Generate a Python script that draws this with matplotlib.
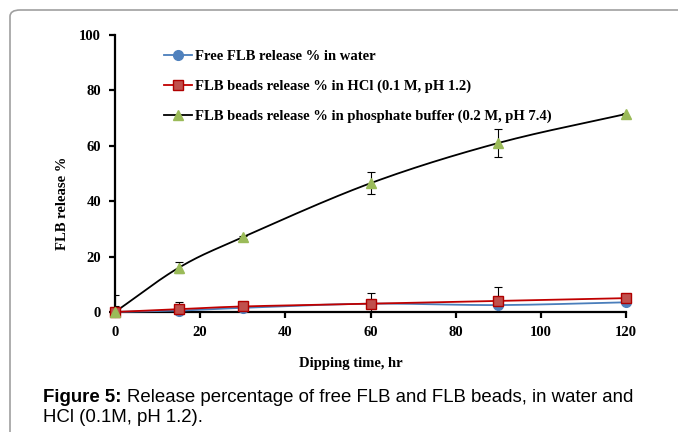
import numpy as np
import matplotlib
matplotlib.use("Agg")
import matplotlib.pyplot as plt
from matplotlib.lines import Line2D
from matplotlib.patches import FancyBboxPatch

# data
time_hr = [0, 15, 30, 60, 90, 120]
water = [0, 0.5, 1.5, 3.0, 2.5, 3.5]
water_err = [0, 0.5, 0.5, 0.5, 0.5, 0.3]
hcl = [0, 1.0, 2.0, 3.0, 4.0, 5.0]
hcl_err = [2.0, 2.5, 1.0, 4.0, 5.0, 0.3]
phosphate = [0, 16.0, 27.0, 46.5, 61.0, 71.5]
phosphate_err = [6.0, 2.0, 0.5, 4.0, 5.0, 0.5]

labels = ["Free FLB release % in water",
          "FLB beads release % in HCl (0.1 M, pH 1.2)",
          "FLB beads release % in phosphate buffer (0.2 M, pH 7.4)"]


def smooth(x, y, n=30):
    # Catmull-Rom curve through the points (like Excel's smoothed line)
    x = np.asarray(x, float)
    y = np.asarray(y, float)
    px = np.concatenate([[2 * x[0] - x[1]], x, [2 * x[-1] - x[-2]]])
    py = np.concatenate([[2 * y[0] - y[1]], y, [2 * y[-1] - y[-2]]])
    xs, ys = [], []
    t = np.linspace(0, 1, n)
    for i in range(1, len(px) - 2):
        for p, out in ((px, xs), (py, ys)):
            p0, p1, p2, p3 = p[i - 1], p[i], p[i + 1], p[i + 2]
            out.extend(0.5 * ((2 * p1) + (-p0 + p2) * t
                              + (2 * p0 - 5 * p1 + 4 * p2 - p3) * t ** 2
                              + (-p0 + 3 * p1 - 3 * p2 + p3) * t ** 3))
    return xs, ys


serif = "Liberation Serif"
W, H = 678, 432
fig = plt.figure(figsize=(6.78, 4.32), dpi=100)
ax = fig.add_axes([115 / W, 1 - 312 / H, 511 / W, 277 / H])

# gray frame around the figure
frame = FancyBboxPatch((10 / W, -0.1), 1.1, (422 / H) + 0.1,
                       boxstyle="round,pad=0,rounding_size=0.015",
                       transform=fig.transFigure, fill=False,
                       edgecolor="#a0a0a0", linewidth=1.2)
fig.patches.append(frame)

series = [
    (water, water_err, "#4A7EBB", "o", "#4F81BD", "#4F81BD", 7),
    (hcl, hcl_err, "#C00000", "s", "#C0504D", "#B00000", 7),
    (phosphate, phosphate_err, "black", "^", "#9BBB59", "#9BBB59", 7),
]

for vals, errs, lc, mk, mfc, mec, ms in series:
    sx, sy = smooth(time_hr, vals)
    ax.plot(sx, sy, color=lc, lw=1.3, clip_on=False, zorder=3)
    ax.errorbar(time_hr, vals, yerr=errs, fmt="none", ecolor="black",
                elinewidth=0.8, capsize=3, capthick=0.8, zorder=4)
    ax.plot(time_hr, vals, ls="none", marker=mk, ms=ms, mfc=mfc, mec=mec,
            clip_on=False, zorder=5)

ax.set_xlim(0, 120)
ax.set_ylim(0, 100)
ax.set_xticks(range(0, 121, 20))
ax.set_yticks(range(0, 101, 20))
for s in ["top", "right"]:
    ax.spines[s].set_visible(False)
for s in ["left", "bottom"]:
    ax.spines[s].set_linewidth(1.6)
ax.tick_params(direction="out", length=4, width=1.6, pad=6)
for lab in ax.get_xticklabels() + ax.get_yticklabels():
    lab.set_fontfamily(serif)
    lab.set_fontweight("bold")
    lab.set_fontsize(10.5)

fig.text(351 / W, 1 - 363 / H, "Dipping time, hr", fontfamily=serif,
         fontweight="bold", fontsize=10.5, ha="center", va="center")
fig.text(63 / W, 1 - 203 / H, "FLB release %", fontfamily=serif,
         fontweight="bold", fontsize=10.5, ha="center", va="center",
         rotation=90)

handles = [
    Line2D([], [], color="#4A7EBB", marker="o", ms=7, mfc="#4F81BD", mec="#4F81BD", lw=1.3),
    Line2D([], [], color="#C00000", marker="s", ms=7, mfc="#C0504D", mec="#B00000", lw=1.3),
    Line2D([], [], color="black", marker="^", ms=7, mfc="#9BBB59", mec="#9BBB59", lw=1.3),
]
ax.legend(handles, labels, loc="upper left", bbox_to_anchor=(0.07, 0.995),
          frameon=False, handlelength=1.95, handletextpad=0.2,
          labelspacing=1.15, prop={"family": serif, "weight": "bold", "size": 10.5})

cap_font = "Liberation Sans"
fig.text(43 / W, 1 - 397 / H, "Figure 5:", fontfamily=cap_font,
         fontweight="bold", fontsize=13.4, va="center")
fig.text(127 / W, 1 - 397 / H,
         "Release percentage of free FLB and FLB beads, in water and",
         fontfamily=cap_font, fontsize=13.4, va="center")
fig.text(43 / W, 1 - 418 / H, "HCl (0.1M, pH 1.2).",
         fontfamily=cap_font, fontsize=13.4, va="center")

fig.savefig("out.png", dpi=100)
